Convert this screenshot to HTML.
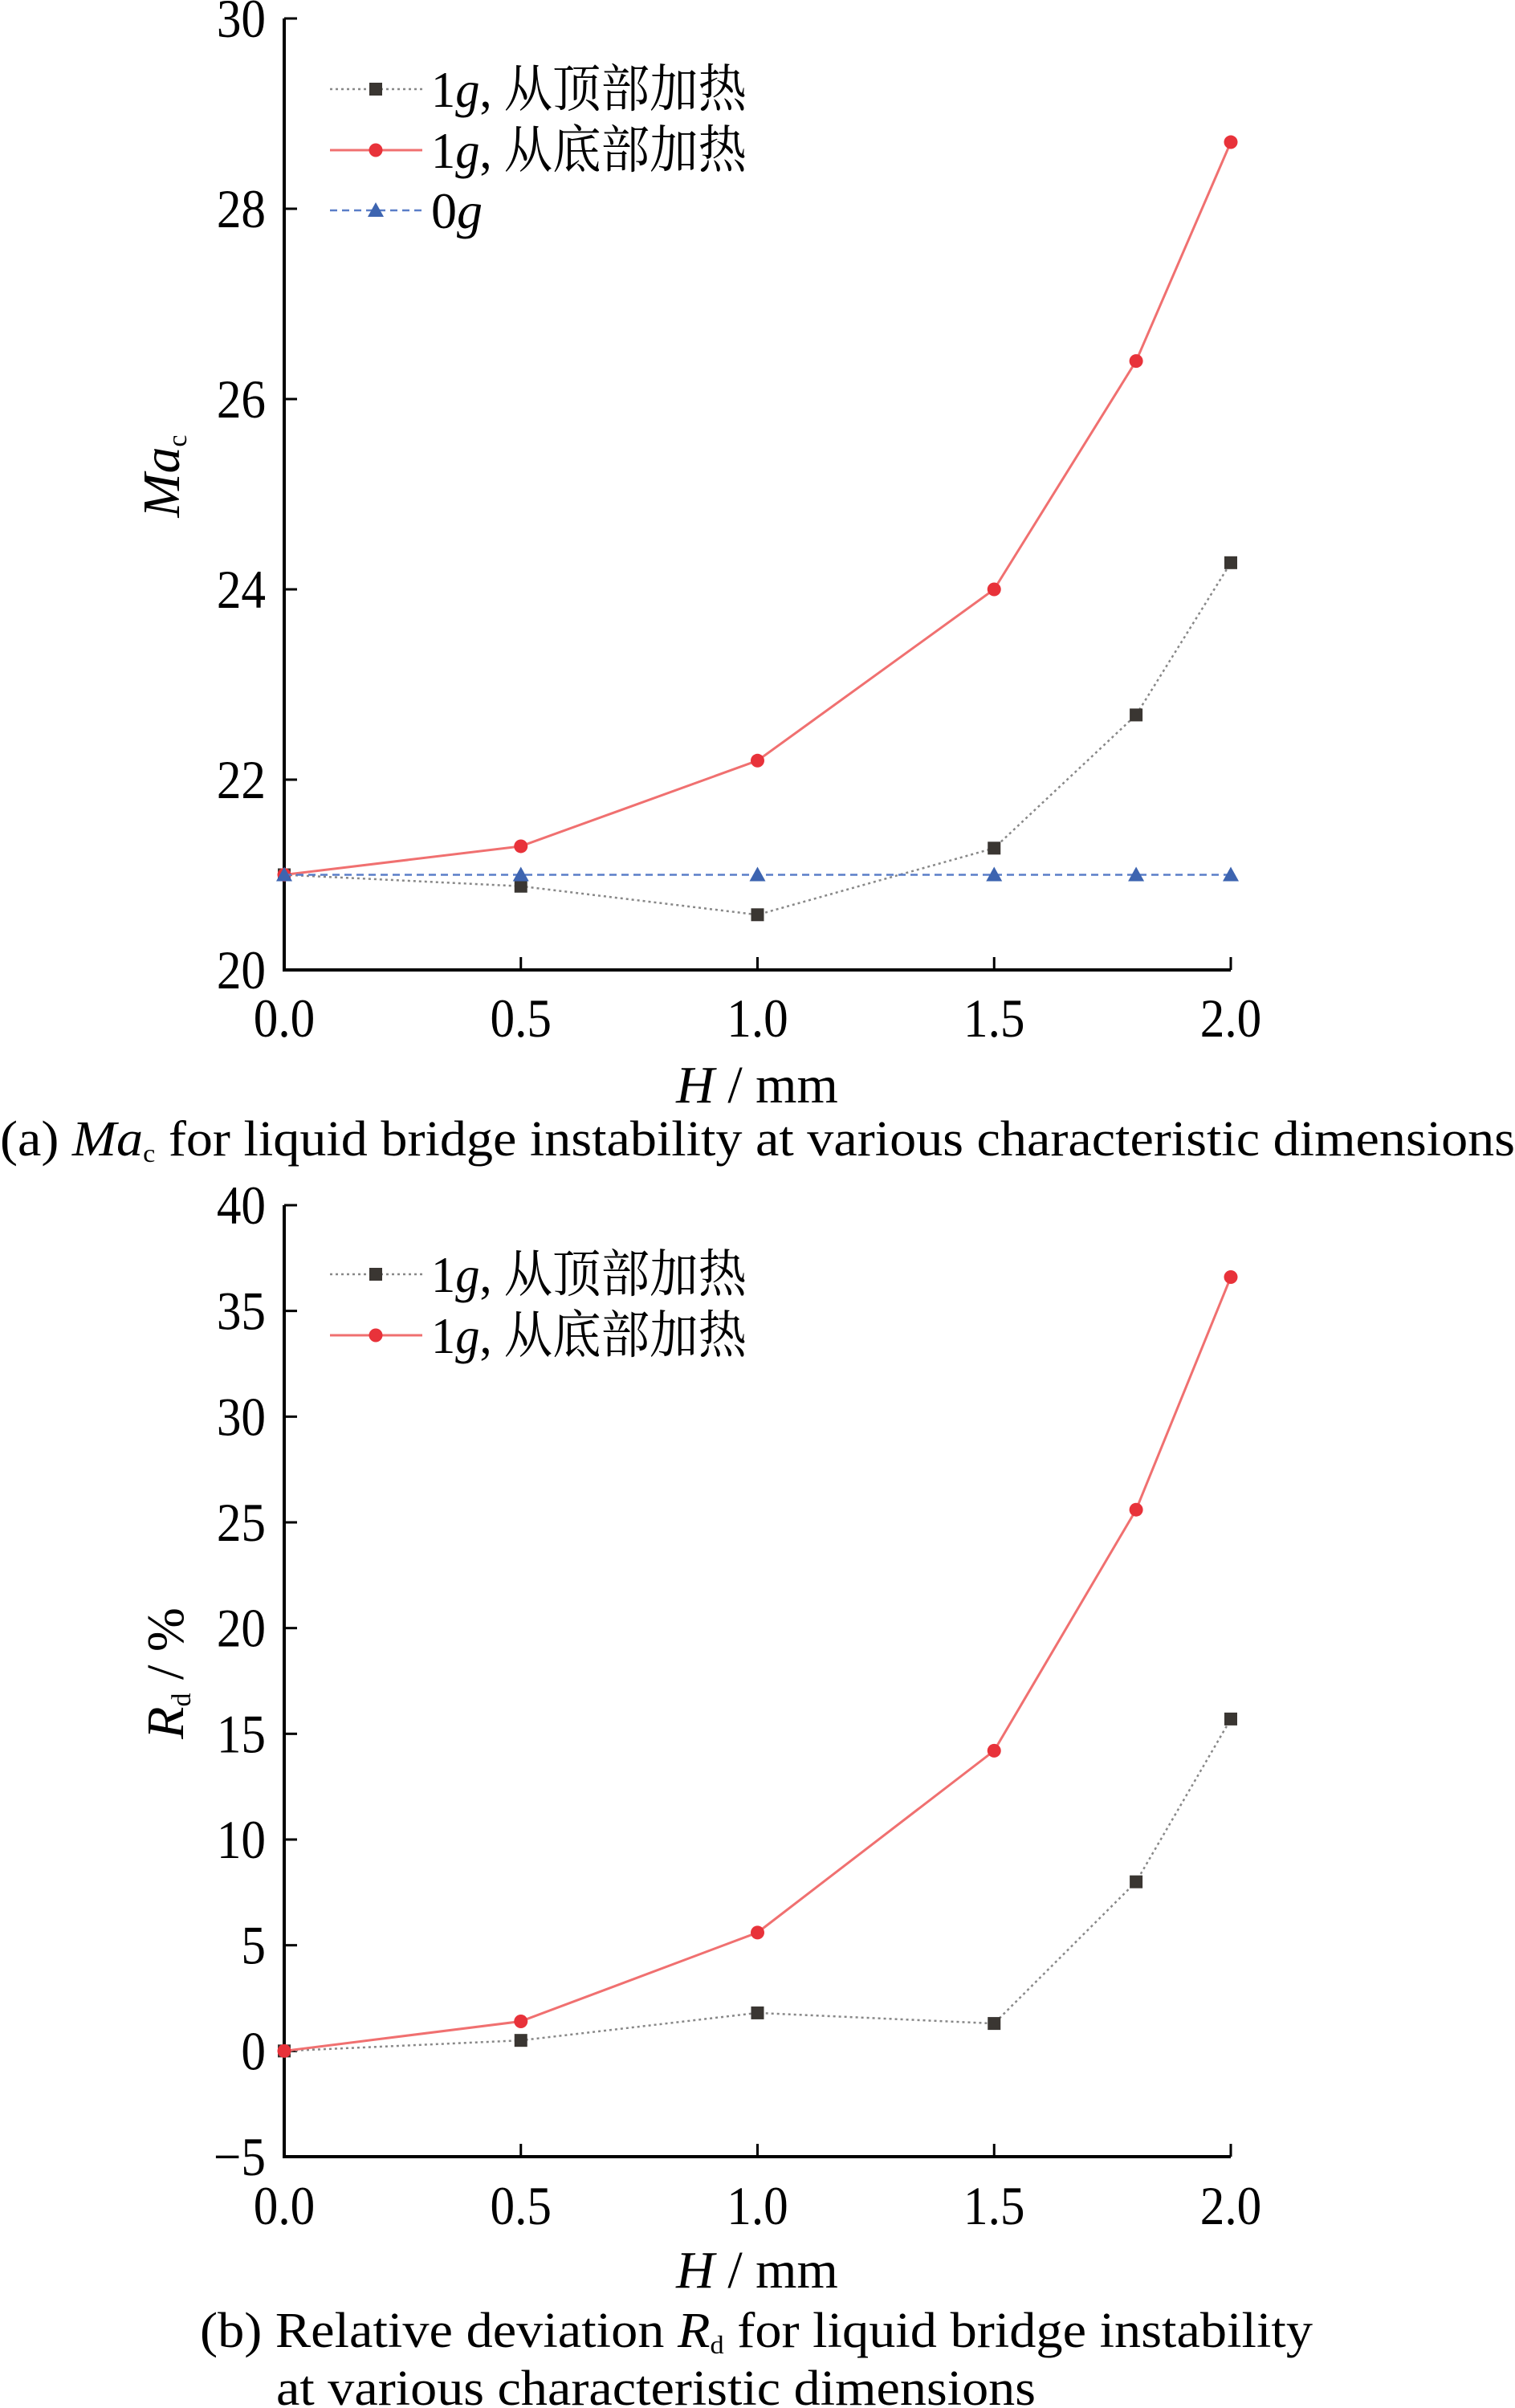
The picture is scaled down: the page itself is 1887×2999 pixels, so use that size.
<!DOCTYPE html>
<html><head><meta charset="utf-8"><style>
html,body{margin:0;padding:0;background:#fff;}
svg{display:block;font-family:"Liberation Serif","Noto Serif CJK SC",serif;}
</style></head><body>
<svg id="fig" width="1887" height="2999" viewBox="0 0 1887 2999" xmlns="http://www.w3.org/2000/svg"></svg>
<script>
const xValues = [0, 0.5, 1.0, 1.5, 1.8, 2.0];
const xTicks = [0, 0.5, 1.0, 1.5, 2.0];
const xTickLabels = ["0.0", "0.5", "1.0", "1.5", "2.0"];
const maTopHeat = [21.0, 20.88, 20.58, 21.28, 22.68, 24.28];
const maBottomHeat = [21.0, 21.3, 22.2, 24.0, 26.4, 28.7];
const maZeroG = [21.0, 21.0, 21.0, 21.0, 21.0, 21.0];
const maTicks = [20, 22, 24, 26, 28, 30];
const rdTopHeat = [0, 0.5, 1.8, 1.3, 8.0, 15.7];
const rdBottomHeat = [0, 1.4, 5.6, 14.2, 25.6, 36.6];
const rdTicks = [-5, 0, 5, 10, 15, 20, 25, 30, 35, 40];

const NS = "http://www.w3.org/2000/svg";
const svg = document.getElementById("fig");
function mk(tag, attrs, parent) {
  const e = document.createElementNS(NS, tag);
  for (const k in attrs) e.setAttribute(k, attrs[k]);
  (parent || svg).appendChild(e);
  return e;
}
const X0 = 354, X1 = 1533;
function xs(v) { return X0 + (v - 0) / 2 * (X1 - X0); }

function marker(g, type, x, y, color) {
  let m;
  if (type === "square") m = mk("rect", {x: x - 8, y: y - 8, width: 16, height: 16, fill: color}, g);
  else if (type === "circle") m = mk("circle", {cx: x, cy: y, r: 8.5, fill: color}, g);
  else m = mk("polygon", {points: `${x},${y-10} ${x-10},${y+8} ${x+10},${y+8}`, fill: color}, g);
  
  
}

function drawChart(cfg) {
  const g = mk("g", {});
  
  
  const ys = v => cfg.yTop + (cfg.yMax - v) / (cfg.yMax - cfg.yMin) * (cfg.yBot - cfg.yTop);
  const ax = mk("path", {d: `M${X0},${cfg.yTop} V${cfg.yBot} H${X1}`, stroke: "#000", "stroke-width": 4, fill: "none"}, g);
  
  
  cfg.yTicks.forEach(t => {
    const y = ys(t);
    const tk = mk("line", {x1: X0, x2: X0 + 16, y1: y, y2: y, stroke: "#000", "stroke-width": 3}, g);
    
    
    const lb = mk("text", {x: 0, y: 0, "text-anchor": "end", "font-size": 68, transform: `translate(331,${y + 23}) scale(0.9,1)`}, g);
    
    
    lb.textContent = t < 0 ? "\u2212" + (-t) : String(t);
  });
  xTicks.forEach((t, i) => {
    const x = xs(t);
    const tk = mk("line", {x1: x, x2: x, y1: cfg.yBot, y2: cfg.yBot - 16, stroke: "#000", "stroke-width": 3}, g);
    
    
    const lb = mk("text", {x: 0, y: 0, "text-anchor": "middle", "font-size": 68, transform: `translate(${x},${cfg.tickY + 23}) scale(0.9,1)`}, g);
    
    
    lb.textContent = xTickLabels[i];
  });
  const xt = mk("text", {x: 943, y: cfg.xTitleY + 23, "text-anchor": "middle", "font-size": 66}, g);
  
  
  xt.innerHTML = '<tspan font-style="italic">H</tspan> / mm';
  const yt = mk("text", {x: 0, y: 0, "text-anchor": "middle", "font-size": 66, transform: `translate(${cfg.yTitleX + 22},${cfg.yTitleY}) rotate(-90)`}, g);
  
  
  yt.innerHTML = cfg.yTitle;
  cfg.series.forEach(s => {
    const sg = mk("g", {}, g);
    
    
    const pts = s.data.map((v, i) => `${xs(xValues[i])},${ys(v)}`).join(" ");
    mk("polyline", {points: pts, fill: "none", stroke: s.color, "stroke-width": s.w, "stroke-dasharray": s.dash || "none"}, sg);
    s.data.forEach((v, i) => marker(sg, s.marker, xs(xValues[i]), ys(v), s.mcolor));
  });
  cfg.series.forEach((s, i) => {
    const ly = cfg.legendY[i];
    const lg = mk("g", {}, g);
    
    
    mk("line", {x1: 411, x2: 526, y1: ly, y2: ly, stroke: s.color, "stroke-width": s.w, "stroke-dasharray": s.dash || "none"}, lg);
    marker(lg, s.marker, 468, ly, s.mcolor);
    const attrs = {x: 537, y: ly + 22, "font-size": 64};
    if (s.legLen) { attrs.textLength = s.legLen; attrs.lengthAdjust = "spacingAndGlyphs"; }
    const t = mk("text", attrs, lg);
    t.innerHTML = s.label;
  });
  cfg.caption.forEach(c => {
    const t = mk("text", {x: c.x, y: c.y + 22, "font-size": 62, textLength: c.len, lengthAdjust: "spacingAndGlyphs"}, g);
    
    
    t.innerHTML = c.html;
  });
}

const sTop = {name: "series-1g-top-heating", color: "#888", w: 2.5, dash: "3 4", marker: "square", mcolor: "#3a3632", legLen: 393, label: '1<tspan font-style="italic">g</tspan>, 从顶部加热'};
const sBot = {name: "series-1g-bottom-heating", color: "#f07070", w: 3, marker: "circle", mcolor: "#e8323a", legLen: 393, label: '1<tspan font-style="italic">g</tspan>, 从底部加热'};
const sZero = {name: "series-0g", color: "#5a7ec8", w: 2.5, dash: "9 6", marker: "triangle", mcolor: "#3d64b0", label: '0<tspan font-style="italic">g</tspan>'};

drawChart({
  name: "chart-a-mac", yTop: 23, yBot: 1208, yMin: 20, yMax: 30, yTicks: maTicks,
  tickY: 1268, xTitleY: 1350, yTitleX: 201, yTitleY: 593,
  yTitle: '<tspan font-style="italic">Ma</tspan><tspan font-size="34" dy="9">c</tspan>',
  series: [Object.assign({}, sTop, {data: maTopHeat}), Object.assign({}, sBot, {data: maBottomHeat}), Object.assign({}, sZero, {data: maZeroG})],
  legendY: [111, 187, 262],
  caption: [{x: 0, y: 1417, len: 1887, html: '(a) <tspan font-style="italic">Ma</tspan><tspan font-size="32" dy="8">c</tspan><tspan dy="-8"> for liquid bridge instability at various characteristic dimensions</tspan>'}]
});
drawChart({
  name: "chart-b-rd", yTop: 1501, yBot: 2686, yMin: -5, yMax: 40, yTicks: rdTicks,
  tickY: 2747, xTitleY: 2826, yTitleX: 206, yTitleY: 2084,
  yTitle: '<tspan font-style="italic">R</tspan><tspan font-size="34" dy="9">d</tspan><tspan dy="-9"> / %</tspan>',
  series: [Object.assign({}, sTop, {data: rdTopHeat}), Object.assign({}, sBot, {data: rdBottomHeat})],
  legendY: [1587, 1663],
  caption: [
    {x: 249, y: 2901, len: 1386, html: '(b) Relative deviation <tspan font-style="italic">R</tspan><tspan font-size="32" dy="8">d</tspan><tspan dy="-8"> for liquid bridge instability</tspan>'},
    {x: 344, y: 2973, len: 946, html: 'at various characteristic dimensions'}
  ]
});
</script>
</body></html>
